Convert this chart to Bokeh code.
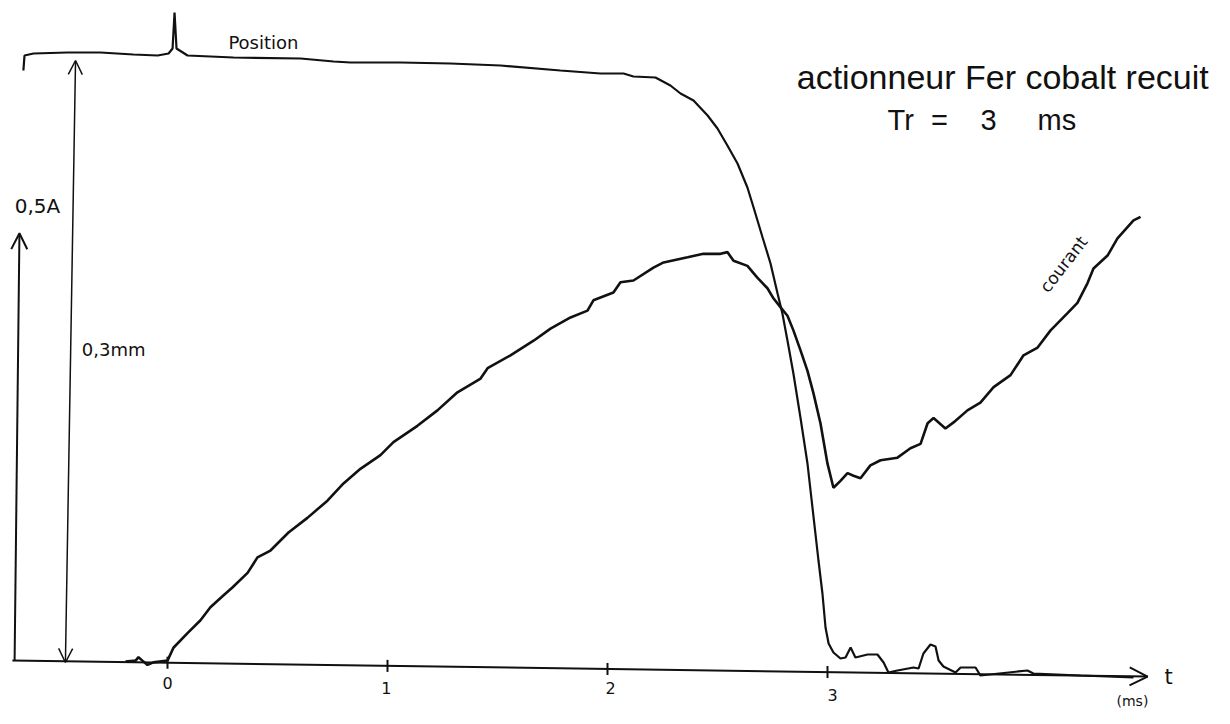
import numpy as np
from bokeh.plotting import figure
from bokeh.models import Range1d, Arrow, OpenHead
from bokeh.core.properties import value
from bokeh.embed import file_html
from bokeh.resources import INLINE

# ---- data (time in ms) ----
cur_t = [-0.191, -0.145, -0.132, -0.114, -0.091, -0.064, 0.000, 0.027, 0.091, 0.150,
         0.195, 0.255, 0.295, 0.364, 0.409, 0.468, 0.550, 0.636, 0.727, 0.800,
         0.877, 0.968, 1.027, 1.136, 1.227, 1.318, 1.423, 1.455, 1.559, 1.664,
         1.741, 1.832, 1.909, 1.936, 2.027, 2.059, 2.118, 2.209, 2.255, 2.364,
         2.436, 2.514, 2.545, 2.573, 2.636, 2.682, 2.727, 2.755, 2.786, 2.818,
         2.845, 2.877, 2.909, 2.936, 2.968, 3.000, 3.027, 3.059, 3.091, 3.118,
         3.150, 3.195, 3.241, 3.318, 3.377, 3.423, 3.455, 3.482, 3.536, 3.573,
         3.636, 3.695, 3.755, 3.832, 3.891, 3.955, 4.014, 4.091, 4.136, 4.182,
         4.209, 4.273, 4.318, 4.391, 4.423]
cur_amp = [0.007, 0.008, 0.012, 0.008, 0.003, 0.006, 0.008, 0.023, 0.040, 0.055,
           0.070, 0.084, 0.093, 0.110, 0.128, 0.136, 0.157, 0.174, 0.194, 0.214,
           0.231, 0.247, 0.262, 0.281, 0.299, 0.320, 0.336, 0.348, 0.363, 0.380,
           0.394, 0.407, 0.415, 0.427, 0.436, 0.448, 0.450, 0.465, 0.471, 0.477,
           0.481, 0.481, 0.483, 0.473, 0.467, 0.453, 0.441, 0.429, 0.419, 0.409,
           0.392, 0.369, 0.345, 0.319, 0.284, 0.237, 0.209, 0.217, 0.226, 0.223,
           0.220, 0.235, 0.241, 0.244, 0.255, 0.260, 0.284, 0.290, 0.278, 0.285,
           0.299, 0.308, 0.326, 0.340, 0.363, 0.372, 0.392, 0.412, 0.424, 0.447,
           0.464, 0.479, 0.499, 0.520, 0.524]

pos_t = [-0.655, -0.650, -0.609, -0.455, -0.305, -0.155, -0.045, 0.005, 0.023, 0.032,
         0.041, 0.091, 0.300, 0.605, 0.755, 0.832, 1.059, 1.286, 1.514, 1.786,
         1.968, 2.073, 2.118, 2.218, 2.286, 2.332, 2.391, 2.455, 2.500, 2.545,
         2.591, 2.636, 2.664, 2.705, 2.741, 2.773, 2.795, 2.818, 2.845, 2.877,
         2.909, 2.927, 2.959, 2.977, 2.991, 3.005, 3.027, 3.059, 3.082, 3.105,
         3.127, 3.182, 3.227, 3.255, 3.277, 3.318, 3.391, 3.414, 3.436, 3.468,
         3.491, 3.505, 3.527, 3.582, 3.605, 3.673, 3.695, 3.909, 3.936, 4.150,
         4.391]
pos_mm = [0.2985, 0.306, 0.307, 0.3075, 0.3075, 0.3065, 0.306, 0.307, 0.3095, 0.3275,
          0.3095, 0.306, 0.305, 0.3045, 0.303, 0.3025, 0.3025, 0.302, 0.301, 0.2985,
          0.297, 0.297, 0.2955, 0.295, 0.291, 0.287, 0.2835, 0.276, 0.2695, 0.261,
          0.252, 0.240, 0.230, 0.215, 0.202, 0.187, 0.177, 0.1635, 0.147, 0.125,
          0.102, 0.0845, 0.0535, 0.037, 0.020, 0.012, 0.0075, 0.0045, 0.005, 0.010,
          0.005, 0.0065, 0.0065, 0.0025, -0.0025, -0.0015, 0.0, -0.0005, 0.007, 0.0115,
          0.0105, 0.0035, 0.0005, -0.0025, 0.0, 0.0, -0.004, -0.0015, -0.003, -0.004,
          -0.005]

tick_vals = [0, 1, 2, 3]
tick_labels = ["0", "1", "2", "3"]

# hand-drawn axis line (ms, A) and scale arrows
axis_t = [-0.705, 4.455]
axis_amp = [0.008, -0.0105]
amp_scale_t = [-0.695, -0.673]
amp_scale = [0.008, 0.505]          # 0,5 A
mm_scale_t = [-0.464, -0.418]
mm_scale = [0.0025, 0.3035]         # 0,3 mm

# ---- figure ----
W, H = 1214, 708
p = figure(width=W, height=H, output_backend="svg", toolbar_location=None,
           x_range=Range1d(-0.7591, 4.7591), y_range=Range1d(-0.04767, 0.77558),
           x_axis_location=None, y_axis_location=None, min_border=0,
           background_fill_color="white", border_fill_color="white")
p.extra_y_ranges = {"pos": Range1d(-0.0205, 0.3335)}
p.outline_line_color = None
p.grid.visible = False

hand = value("DejaVu Sans")
ink = "#111111"

# axis
p.line(axis_t, axis_amp, line_color=ink, line_width=2)
p.add_layout(Arrow(end=OpenHead(size=18, line_width=2, line_color=ink),
                   x_start=axis_t[0], y_start=axis_amp[0],
                   x_end=axis_t[1], y_end=axis_amp[1],
                   line_width=0.1, line_color=ink))
base = np.interp(tick_vals, axis_t, axis_amp)
p.segment(x0=tick_vals, y0=base + 0.007, x1=tick_vals, y1=base - 0.007,
          line_color=ink, line_width=2)
p.text(x=[0, 0.995, 2.014, 3.023], y=[-0.0186, -0.0244, -0.0244, -0.0314],
       text=tick_labels, text_font=hand, text_font_size="16px",
       text_align="center", text_baseline="middle", text_color=ink)
p.text(x=[4.55], y=[-0.0116], text=["t"], text_font=hand, text_font_size="21px",
       text_align="center", text_baseline="middle", text_color=ink)
p.text(x=[4.386], y=[-0.0384], text=["(ms)"], text_font=hand, text_font_size="14px",
       text_align="center", text_baseline="middle", text_color=ink)

# scale arrows
p.add_layout(Arrow(end=OpenHead(size=16, line_width=2, line_color=ink),
                   x_start=amp_scale_t[0], y_start=amp_scale[0],
                   x_end=amp_scale_t[1], y_end=amp_scale[1],
                   line_width=2, line_color=ink))
p.add_layout(Arrow(start=OpenHead(size=14, line_width=1.5, line_color=ink),
                   end=OpenHead(size=14, line_width=1.5, line_color=ink),
                   x_start=mm_scale_t[0], y_start=mm_scale[0],
                   x_end=mm_scale_t[1], y_end=mm_scale[1],
                   line_width=1.5, line_color=ink, y_range_name="pos"))

# curves
p.line(pos_t, pos_mm, y_range_name="pos", line_color=ink, line_width=2.2)
p.line(cur_t, cur_amp, line_color=ink, line_width=2.6)

# labels
p.text(x=[0.436], y=[0.727], text=["Position"], text_font=hand, text_font_size="18px",
       text_align="center", text_baseline="middle", text_color=ink)
p.text(x=[-0.591], y=[0.537], text=["0,5A"], text_font=hand, text_font_size="20px",
       text_align="center", text_baseline="middle", text_color=ink)
p.text(x=[-0.245], y=[0.370], text=["0,3mm"], text_font=hand, text_font_size="18px",
       text_align="center", text_baseline="middle", text_color=ink)
p.text(x=[4.073], y=[0.469], text=["courant"], text_font=hand, text_font_size="17px",
       angle=0.91, text_align="center", text_baseline="middle", text_color=ink)

title_font = value("Liberation Sans")
p.text(x=[3.818], y=[0.687], text=["actionneur Fer cobalt  recuit"], text_font=title_font,
       text_font_size="34px", text_align="center", text_baseline="middle", text_color=ink)
p.text(x=[3.273, 3.955], y=[0.637, 0.637], text=["Tr", "ms"], text_font=title_font,
       text_font_size="29px", text_align="left", text_baseline="middle", text_color=ink)
p.text(x=[3.509, 3.732], y=[0.637, 0.637], text=["=", "3"], text_font=title_font,
       text_font_size="29px", text_align="center", text_baseline="middle", text_color=ink)

open("out.html", "w").write(file_html(p, INLINE))
